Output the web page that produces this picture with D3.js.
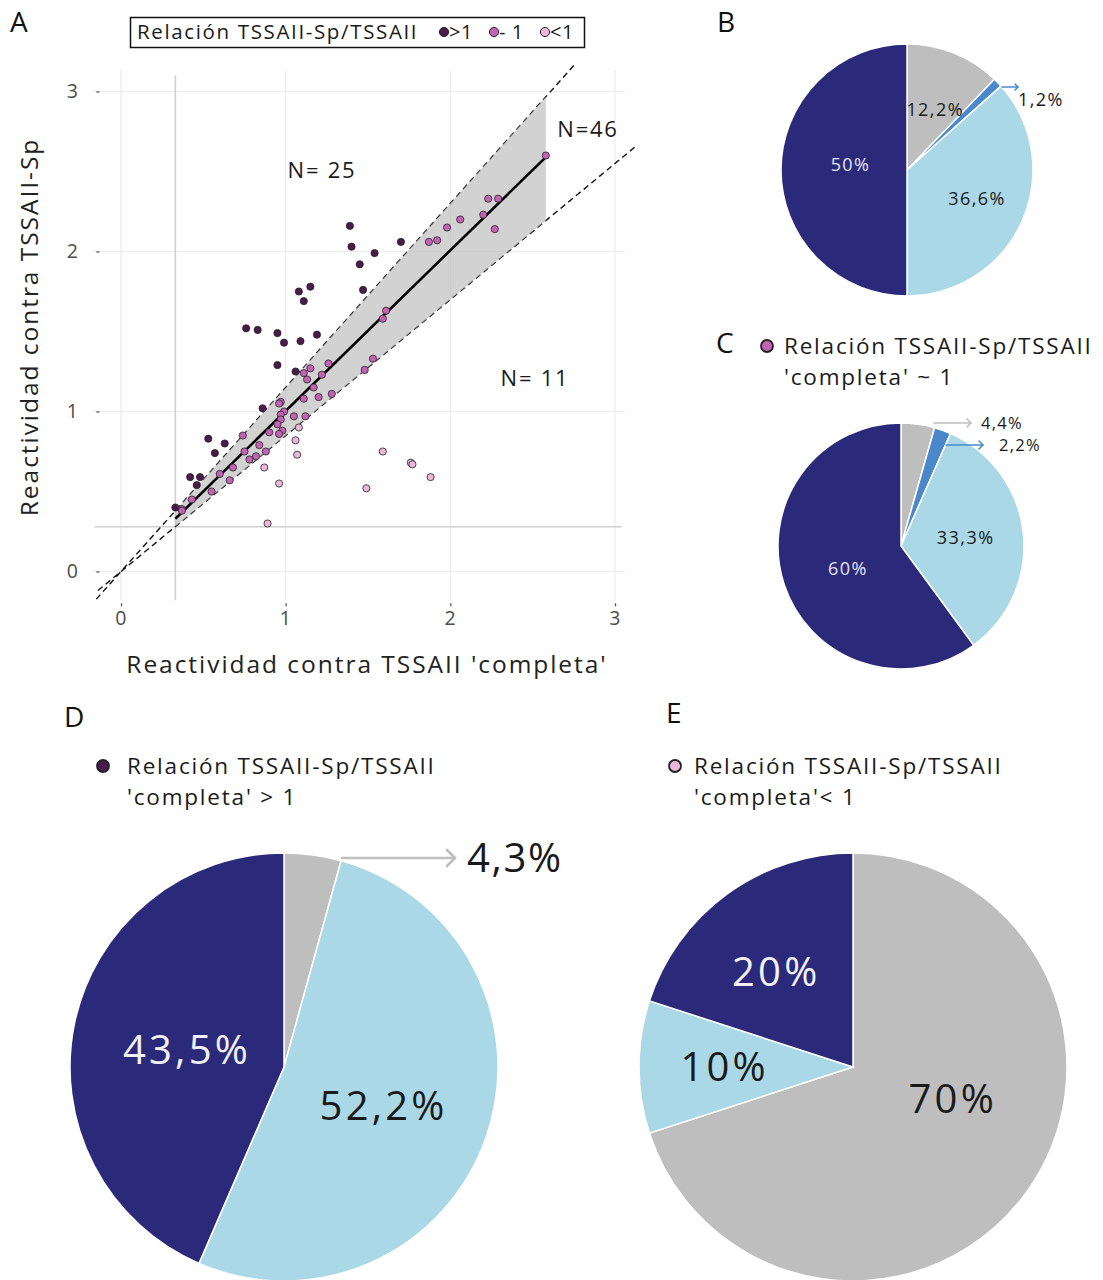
<!DOCTYPE html>
<html>
<head>
<meta charset="utf-8">
<script src="https://cdn.jsdelivr.net/npm/d3@7"></script>
<style>
  html, body { margin: 0; padding: 0; background: #fff; }
  svg { display: block; }
  text { font-family: "Open Sans", "Roboto", sans-serif; letter-spacing: 0.08em; }
</style>
</head>
<body>
<svg id="fig" width="1103" height="1280"></svg>
<script>
// ---------- Scatter (panel A) data ----------
const xTicks = [0, 1, 2, 3];
const yTicks = [0, 1, 2, 3];
const ratioGroups = [">1", "- 1", "<1"];

// ratio TSSAII-Sp / TSSAII > 1
const pointsHigh = [
  [1.39,2.16],[1.40,2.03],[1.54,1.99],[1.70,2.06],[1.45,1.92],[1.47,1.76],[1.08,1.75],[1.15,1.78],[1.11,1.69],
  [0.76,1.52],[0.83,1.51],[0.95,1.49],[0.99,1.43],[1.09,1.44],[1.19,1.48],[0.95,1.29],[1.06,1.25],[0.86,1.02],
  [0.53,0.83],[0.63,0.80],[0.57,0.74],[0.42,0.59],[0.48,0.59],[0.46,0.54],[0.33,0.40]
];
// ratio ~ 1
const pointsMid = [
  [2.58,2.60],[2.23,2.33],[2.29,2.33],[2.20,2.23],[2.27,2.14],[2.06,2.20],[1.98,2.15],[1.92,2.07],[1.87,2.06],
  [1.61,1.63],[1.59,1.58],[1.11,1.24],[1.15,1.27],[1.13,1.20],[1.26,1.30],[1.22,1.23],[1.17,1.15],[1.48,1.26],
  [1.53,1.33],[1.28,1.11],[1.20,1.09],[1.11,1.08],[0.97,1.06],[0.96,1.05],[0.99,1.00],[0.97,0.98],[0.97,0.95],
  [1.05,0.97],[1.12,0.97],[0.98,0.88],[0.96,0.86],[0.95,0.92],[0.90,0.87],[0.74,0.85],[0.84,0.79],[0.75,0.75],
  [0.88,0.75],[0.82,0.72],[0.78,0.70],[0.68,0.65],[0.60,0.61],[0.66,0.57],[0.55,0.50],[0.43,0.45],[0.37,0.39],
  [0.37,0.38]
];
// ratio < 1
const pointsLow = [
  [1.08,0.90],[1.06,0.82],[1.07,0.73],[0.87,0.65],[0.96,0.55],[0.89,0.30],[1.59,0.75],[1.76,0.68],[1.77,0.67],
  [1.88,0.59],[1.49,0.52]
];
const groupCounts = ["N= 25", "N=46", "N= 11"];

// cut-offs, equivalence band (±15 %) and identity fit
const cutX = 0.33, cutY = 0.28;
const bandSlopes = [1.15, 0.85];
const bandRange = [0.33, 2.58];
const fitLine = [[0.33, 0.33], [2.58, 2.59]];
const dashUpperRange = [-0.15, 2.75];
const dashLowerRange = [-0.14, 3.13];

// ---------- Pie data ----------
const sliceNames = ["gris", "azul", "celeste", "marino"];
const pieB = [12.2, 1.2, 36.6, 50];
const pieBLabels = ["12,2%", "1,2%", "36,6%", "50%"];
const pieC = [4.4, 2.2, 33.3, 60];
const pieCLabels = ["4,4%", "2,2%", "33,3%", "60%"];
const pieD = [4.3, 0, 52.2, 43.5];
const pieDLabels = ["4,3%", "", "52,2%", "43,5%"];
const pieE = [70, 0, 10, 20];
const pieELabels = ["70%", "", "10%", "20%"];

// ---------- styles ----------
const sliceColors = { gris: "#bebebe", azul: "#4a88cb", celeste: "#aad8e7", marino: "#2b2a7a" };
const dotColors = { ">1": "#4a1b4b", "- 1": "#c462b6", "<1": "#ebb6da" };
const textCol = "#1a1a1a";

const svg = d3.select("#fig");

// ================= Panel A =================
const x = d3.scaleLinear().domain([0, 3]).range([121, 615]);
const y = d3.scaleLinear().domain([0, 3]).range([571.5, 91.5]);
const xMin = -0.18, xMax = 3.06, yMin = -0.18, yMax = 3.13;

const gA = svg.append("g");

// grid
gA.append("g").selectAll("line").data(yTicks).join("line")
  .attr("x1", x(xMin)).attr("x2", x(xMax))
  .attr("y1", d => y(d)).attr("y2", d => y(d))
  .attr("stroke", "#ececec").attr("stroke-width", 1.2);
gA.append("g").selectAll("line").data(xTicks).join("line")
  .attr("y1", y(yMin)).attr("y2", y(yMax))
  .attr("x1", d => x(d)).attr("x2", d => x(d))
  .attr("stroke", "#ececec").attr("stroke-width", 1.2);

// cut-off lines
gA.append("line").attr("x1", x(cutX)).attr("x2", x(cutX))
  .attr("y1", y(yMin)).attr("y2", y(yMax - 0.03))
  .attr("stroke", "#d0d0d0").attr("stroke-width", 1.6);
gA.append("line").attr("x1", x(xMin + 0.02)).attr("x2", x(xMax - 0.02))
  .attr("y1", y(cutY)).attr("y2", y(cutY))
  .attr("stroke", "#d0d0d0").attr("stroke-width", 1.6);

// dashed ±15 % lines
const lineGen = d3.line().x(d => x(d[0])).y(d => y(d[1]));
gA.append("path")
  .attr("d", lineGen(dashUpperRange.map(v => [v, v * bandSlopes[0]])))
  .attr("fill", "none").attr("stroke", "#111").attr("stroke-width", 1.4)
  .attr("stroke-dasharray", "6,4");
gA.append("path")
  .attr("d", lineGen(dashLowerRange.map(v => [v, v * bandSlopes[1]])))
  .attr("fill", "none").attr("stroke", "#111").attr("stroke-width", 1.4)
  .attr("stroke-dasharray", "6,4");

// band
const band = d3.area()
  .x(d => x(d))
  .y0(d => y(d * bandSlopes[1]))
  .y1(d => y(d * bandSlopes[0]));
gA.append("path").attr("d", band(bandRange))
  .attr("fill", "#bcbcbc").attr("fill-opacity", 0.68);

// fit line
gA.append("path").attr("d", lineGen(fitLine))
  .attr("fill", "none").attr("stroke", "#000").attr("stroke-width", 2.6);

// points
const allPts = [
  ...pointsHigh.map(p => ({ p, g: ">1" })),
  ...pointsMid.map(p => ({ p, g: "- 1" })),
  ...pointsLow.map(p => ({ p, g: "<1" }))
];
gA.append("g").selectAll("circle").data(allPts).join("circle")
  .attr("cx", d => x(d.p[0])).attr("cy", d => y(d.p[1]))
  .attr("r", 3.6)
  .attr("fill", d => dotColors[d.g])
  .attr("stroke", "#222").attr("stroke-width", 0.8);

// axes ticks and labels
const yAxis = d3.axisLeft(y).tickValues(yTicks).tickFormat(d3.format("d")).tickSize(3).tickPadding(17);
const yg = gA.append("g").attr("transform", `translate(${x(xMin) + 8},0)`).call(yAxis);
yg.select(".domain").remove();
yg.selectAll(".tick line").attr("stroke", "#555").attr("stroke-width", 1.3);
yg.selectAll(".tick text").attr("font-size", 19.5).attr("fill", "#4d4d4d").attr("font-family", "Open Sans");

const xAxis = d3.axisBottom(x).tickValues(xTicks).tickFormat(d3.format("d")).tickSize(3).tickPadding(5);
const xg = gA.append("g").attr("transform", `translate(0,${y(yMin) + 3})`).call(xAxis);
xg.select(".domain").remove();
xg.selectAll(".tick line").attr("stroke", "#555").attr("stroke-width", 1.3);
xg.selectAll(".tick text").attr("font-size", 19.5).attr("fill", "#4d4d4d").attr("font-family", "Open Sans");

// axis titles
gA.append("text").attr("x", 367).attr("y", 673).attr("text-anchor", "middle")
  .attr("font-size", 24.5).attr("fill", "#222").text("Reactividad contra TSSAII 'completa'");
gA.append("text").attr("transform", "translate(38,327) rotate(-90)").attr("text-anchor", "middle")
  .attr("font-size", 24.5).attr("fill", "#222").text("Reactividad contra TSSAII-Sp");

// group counts
const countPos = [[322, 178], [588, 137], [535, 386]];
gA.append("g").selectAll("text").data(groupCounts).join("text")
  .attr("x", (d, i) => countPos[i][0]).attr("y", (d, i) => countPos[i][1])
  .attr("text-anchor", "middle").attr("font-size", 22).attr("fill", textCol)
  .text(d => d);

// legend box
const lg = svg.append("g");
lg.append("rect").attr("x", 130.5).attr("y", 17.5).attr("width", 454).attr("height", 30)
  .attr("fill", "#fff").attr("stroke", "#111").attr("stroke-width", 1.5);
lg.append("text").attr("x", 137).attr("y", 39).attr("font-size", 20.5).attr("fill", textCol)
  .text("Relación TSSAII-Sp/TSSAII");
const legX = [444, 494, 545];
ratioGroups.forEach((g, i) => {
  lg.append("circle").attr("cx", legX[i]).attr("cy", 32).attr("r", 4.6)
    .attr("fill", dotColors[g]).attr("stroke", "#222").attr("stroke-width", 1);
  lg.append("text").attr("x", legX[i] + 5).attr("y", 39).attr("font-size", 20)
    .attr("fill", textCol).style("letter-spacing", "0.03em").text(g);
});

// panel letters
const letters = [["A", 10, 32], ["B", 717, 32], ["C", 716, 353], ["D", 64, 727], ["E", 666, 723]];
svg.append("g").selectAll("text").data(letters).join("text")
  .attr("x", d => d[1]).attr("y", d => d[2]).attr("font-size", 28).attr("fill", "#111")
  .style("letter-spacing", "0")
  .text(d => d[0]);

// ================= Pies =================
function drawPie(values, labels, cx, cy, r, opts) {
  const data = values.map((v, i) => ({ v, name: sliceNames[i], label: labels[i] }));
  const arcs = d3.pie().sort(null).value(d => d.v)(data);
  const arc = d3.arc().innerRadius(0).outerRadius(r);
  const g = svg.append("g").attr("transform", `translate(${cx},${cy})`);
  g.selectAll("path").data(arcs.filter(a => a.data.v > 0)).join("path")
    .attr("d", arc)
    .attr("fill", d => sliceColors[d.data.name])
    .attr("stroke", "#fff").attr("stroke-width", 1.5);
  // inner labels at [radius fraction, angle shift]
  (opts.inner || []).forEach(([idx, k, dAng, col]) => {
    const a = arcs[idx];
    const ang = (a.startAngle + a.endAngle) / 2 + dAng * Math.PI / 180;
    g.append("text")
      .attr("x", Math.sin(ang) * r * k).attr("y", -Math.cos(ang) * r * k)
      .attr("dy", "0.35em").attr("text-anchor", "middle")
      .attr("font-size", opts.fs).attr("fill", col).text(a.data.label);
  });
  return { g, arcs };
}

function arrow(x1, y1, x2, y2, col, w, head) {
  const g = svg.append("g").attr("stroke", col).attr("stroke-width", w)
    .attr("fill", "none").attr("stroke-linecap", "round").attr("stroke-linejoin", "round");
  g.append("line").attr("x1", x1).attr("y1", y1).attr("x2", x2).attr("y2", y2);
  g.append("path").attr("d", `M${x2 - head},${y2 - head}L${x2},${y2}L${x2 - head},${y2 + head}`);
}

// B
drawPie(pieB, pieBLabels, 907, 170, 126, {
  fs: 18,
  inner: [[0, 0.53, 3, textCol], [2, 0.6, -2, textCol], [3, 0.45, 5, "#e4e4f2"]]
});
arrow(1002, 87, 1018, 87, sliceColors.azul, 1.5, 3);
svg.append("text").attr("x", 1018).attr("y", 106).attr("font-size", 18).attr("fill", textCol).text(pieBLabels[1]);

// C
drawPie(pieC, pieCLabels, 901, 546, 123, {
  fs: 18,
  inner: [[2, 0.53, -1, textCol], [3, 0.47, -5, "#e4e4f2"]]
});
arrow(934, 423, 971, 423, sliceColors.gris, 1.6, 4);
arrow(946, 445, 983, 445, sliceColors.azul, 1.6, 4);
svg.append("text").attr("x", 981).attr("y", 429).attr("font-size", 16.5).attr("fill", textCol).text(pieCLabels[0]);
svg.append("text").attr("x", 999).attr("y", 451).attr("font-size", 16.5).attr("fill", textCol).text(pieCLabels[1]);

// D
drawPie(pieD, pieDLabels, 284, 1067, 214, {
  fs: 40,
  inner: [[2, 0.5, 2, textCol], [3, 0.46, -2, "#f2f2f6"]]
});
arrow(342, 858, 455, 858, sliceColors.gris, 2.6, 8);
svg.append("text").attr("x", 467).attr("y", 872).attr("font-size", 40).attr("fill", textCol)
  .style("letter-spacing", "0.04em").text(pieDLabels[0]);

// E
drawPie(pieE, pieELabels, 853, 1067, 214, {
  fs: 40,
  inner: [[0, 0.49, -18, textCol], [2, 0.6, 0, textCol], [3, 0.57, -3, "#f2f2f6"]]
});

// sub-legends of C, D, E
function subLegend(cx, cy, col, tx, lines, fs) {
  svg.append("circle").attr("cx", cx).attr("cy", cy).attr("r", 6)
    .attr("fill", col).attr("stroke", "#222").attr("stroke-width", 1.8);
  lines.forEach((t, i) => {
    svg.append("text").attr("x", tx).attr("y", cy + 8 + i * 31).attr("font-size", fs)
      .attr("fill", textCol).text(t);
  });
}
subLegend(767, 346, dotColors["- 1"], 784, ["Relación TSSAII-Sp/TSSAII", "'completa' ~ 1"], 22.5);
subLegend(103, 766, dotColors[">1"], 127, ["Relación TSSAII-Sp/TSSAII", "'completa' > 1"], 22.5);
subLegend(675, 766, dotColors["<1"], 694, ["Relación TSSAII-Sp/TSSAII", "'completa'< 1"], 22.5);
</script>
</body>
</html>
